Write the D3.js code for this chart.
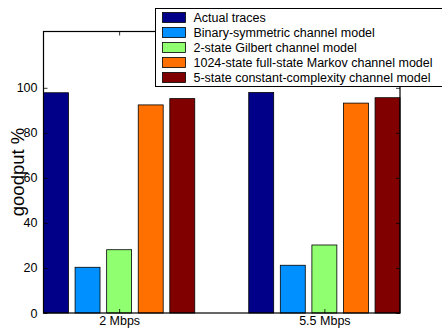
<!DOCTYPE html>
<html>
<head>
<meta charset="utf-8">
<script src="https://cdn.jsdelivr.net/npm/d3@7"></script>
<style>
	body { margin: 0; background: #fff; }
	svg { display: block; font-family: "Liberation Sans", Arial, sans-serif; }
</style>
</head>
<body>
<div id="chart"></div>
<script>
const categories = ["2 Mbps", "5.5 Mbps"];
const seriesNames = [
	"Actual traces",
	"Binary-symmetric channel model",
	"2-state Gilbert channel model",
	"1024-state full-state Markov channel model",
	"5-state constant-complexity channel model"
];
const seriesColors = ["#000088", "#0090ff", "#90ff70", "#ff7000", "#800000"];
const actualTraces = [97.8, 97.9];
const binarySymmetric = [20.3, 21.2];
const gilbert = [28.1, 30.2];
const markovFull = [92.4, 93.2];
const constantComplexity = [95.2, 95.6];
const yTicks = [0, 20, 40, 60, 80, 100];

const seriesValues = [actualTraces, binarySymmetric, gilbert, markovFull, constantComplexity];

const width = 442, height = 330;
const margin = {left: 43.5, right: 42, top: 31.5, bottom: 17};
const innerW = width - margin.left - margin.right;
const innerH = height - margin.top - margin.bottom;

const svg = d3.select("#chart").append("svg")
	.attr("width", width)
	.attr("height", height);

const g = svg.append("g")
	.attr("transform", `translate(${margin.left},${margin.top})`);

const x0 = d3.scaleBand().domain(categories).range([0, innerW]).paddingInner(0.263).paddingOuter(0);
const x1 = d3.scaleBand().domain(d3.range(seriesNames.length)).range([0, x0.bandwidth()]).paddingInner(0.21).paddingOuter(0);
const y = d3.scaleLinear().domain([0, 125]).range([innerH, 0]);

// bars
const groups = g.selectAll(".group")
	.data(categories)
	.enter().append("g")
	.attr("transform", d => `translate(${x0(d)},0)`);

groups.selectAll("rect")
	.data((d, i) => seriesValues.map((s, k) => ({k: k, v: s[i]})))
	.enter().append("rect")
	.attr("x", d => x1(d.k))
	.attr("width", x1.bandwidth())
	.attr("y", d => y(d.v))
	.attr("height", d => innerH - y(d.v))
	.attr("fill", d => seriesColors[d.k])
	.attr("stroke", "#000")
	.attr("stroke-width", 0.8);

// axes, matplotlib style ticks inside
const tickLen = 4;
const axisLeft = d3.axisLeft(y).tickValues(yTicks).tickSizeInner(-tickLen).tickSizeOuter(0).tickPadding(6);
const axisRight = d3.axisRight(y).tickValues(yTicks).tickSizeInner(-tickLen).tickSizeOuter(0).tickFormat("");
const xCenter = d => x0(d) + x0.bandwidth() / 2;
const xc = d3.scalePoint().domain(categories).range([xCenter(categories[0]), xCenter(categories[1])]);
const axisBottom = d3.axisBottom(xc).tickSizeInner(-tickLen).tickSizeOuter(0).tickPadding(3);
const axisTop = d3.axisTop(xc).tickSizeInner(-tickLen).tickSizeOuter(0).tickFormat("");

function styleAxis(sel) {
	sel.select(".domain").remove();
	sel.selectAll("line").attr("stroke", "#000").attr("stroke-width", 0.8);
	sel.selectAll("text").attr("font-size", 12.5).attr("fill", "#000")
		.attr("font-family", "Liberation Sans, Arial, sans-serif");
}

g.append("g").call(axisLeft).call(styleAxis);
g.append("g").attr("transform", `translate(${innerW},0)`).call(axisRight).call(styleAxis);
g.append("g").attr("transform", `translate(0,${innerH})`).call(axisBottom).call(styleAxis);
g.append("g").call(axisTop).call(styleAxis);

g.append("rect")
	.attr("width", innerW)
	.attr("height", innerH)
	.attr("fill", "none")
	.attr("stroke", "#000")
	.attr("stroke-width", 1.2);

// y label
svg.append("text")
	.attr("transform", `translate(24,172) rotate(-90)`)
	.attr("text-anchor", "middle")
	.attr("font-size", 18.5)
	.text("goodput %");

// legend
const legend = svg.append("g").attr("transform", "translate(155.5,8.5)");
legend.append("rect")
	.attr("width", 300)
	.attr("height", 78)
	.attr("fill", "#fff")
	.attr("stroke", "#000")
	.attr("stroke-width", 1);

const items = legend.selectAll(".item")
	.data(seriesNames)
	.enter().append("g")
	.attr("transform", (d, i) => `translate(7,${4 + i * 15})`);

items.append("rect")
	.attr("width", 23)
	.attr("height", 10)
	.attr("fill", (d, i) => seriesColors[i])
	.attr("stroke", "#000")
	.attr("stroke-width", 0.8);

items.append("text")
	.attr("x", 31)
	.attr("y", 9.5)
	.attr("font-size", 12.5)
	.text(d => d);
</script>
</body>
</html>
